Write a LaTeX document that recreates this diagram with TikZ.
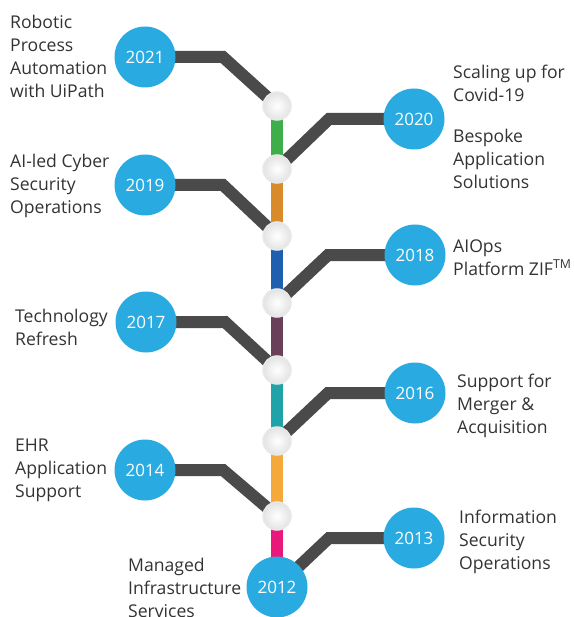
\documentclass[tikz,border=0pt]{standalone}
\usepackage{fontspec}
\setmainfont{Open Sans}
\definecolor{yearblue}{HTML}{29ABE2}
\definecolor{linkgrey}{HTML}{4A4A4A}
\definecolor{txt}{HTML}{333333}
\definecolor{cgreen}{HTML}{3DAE49}
\definecolor{corange}{HTML}{D98A2B}
\definecolor{cblue}{HTML}{1E5FAF}
\definecolor{cplum}{HTML}{6A3F58}
\definecolor{cteal}{HTML}{1FA2A8}
\definecolor{cyellow}{HTML}{F5A93A}
\definecolor{cpink}{HTML}{E8197A}
\begin{document}
\begin{tikzpicture}[x=1pt,y=-1pt,
  year/.style={circle,fill=yearblue,minimum size=61pt,inner sep=0pt,text=white,font=\fontsize{17}{20}\selectfont},
  joint/.style={circle,minimum size=28pt,inner sep=0pt,draw=gray!18,line width=1.5pt,inner color=white,outer color=gray!22},
  link/.style={linkgrey,line width=12pt,line join=miter},
  seg/.style={line width=12pt},
  label/.style={anchor=base west,align=left,inner sep=0pt,text=txt,font=\fontsize{17.6}{23}\selectfont}]
\useasboundingbox (0,0) rectangle (573,617);
% joints
\coordinate (j1) at (277,106);
\coordinate (j2) at (277,169);
\coordinate (j3) at (277,236);
\coordinate (j4) at (277,303);
\coordinate (j5) at (277,370);
\coordinate (j6) at (277,441);
\coordinate (j7) at (277,516);
\coordinate (j8) at (277,587);
% bends
\coordinate (b21) at (223,57);
\coordinate (b20) at (329,119);
\coordinate (b19) at (223,185);
\coordinate (b18) at (328,255);
\coordinate (b17) at (225,322);
\coordinate (b16) at (328,393);
\coordinate (b14) at (223,470);
\coordinate (b13) at (329,538);
% year nodes positions
\coordinate (p21) at (145,57);
\coordinate (p20) at (414,119);
\coordinate (p19) at (145,185);
\coordinate (p18) at (415,255);
\coordinate (p17) at (146,322);
\coordinate (p16) at (415,393);
\coordinate (p14) at (145,470);
\coordinate (p13) at (414,538);
% connectors
\draw[link] (p21) -- (b21) -- (j1);
\draw[link] (p20) -- (b20) -- (j2);
\draw[link] (p19) -- (b19) -- (j3);
\draw[link] (p18) -- (b18) -- (j4);
\draw[link] (p17) -- (b17) -- (j5);
\draw[link] (p16) -- (b16) -- (j6);
\draw[link] (p14) -- (b14) -- (j7);
\draw[link] (p13) -- (b13) -- (j8);
% coloured spine
\draw[seg,cgreen] (j1) -- (j2);
\draw[seg,corange] (j2) -- (j3);
\draw[seg,cblue] (j3) -- (j4);
\draw[seg,cplum] (j4) -- (j5);
\draw[seg,cteal] (j5) -- (j6);
\draw[seg,cyellow] (j6) -- (j7);
\draw[seg,cpink] (j7) -- (j8);
% joint circles
\node[joint] (g1) at (j1) {};
\node[joint] (g2) at (j2) {};
\node[joint] (g3) at (j3) {};
\node[joint] (g4) at (j4) {};
\node[joint] (g5) at (j5) {};
\node[joint] (g6) at (j6) {};
\node[joint] (g7) at (j7) {};
% year circles
\node[year] (y21) at (p21) {2021};
\node[year] (y20) at (p20) {2020};
\node[year] (y19) at (p19) {2019};
\node[year] (y18) at (p18) {2018};
\node[year] (y17) at (p17) {2017};
\node[year] (y16) at (p16) {2016};
\node[year] (y14) at (p14) {2014};
\node[year] (y13) at (p13) {2013};
\node[year] (y12) at (j8) {2012};
% labels (anchored at the baseline of their last line)
\node[label] (t21) at (10,98) {Robotic\\Process\\Automation\\with UiPath};
\node[label] (t20a) at (453,102) {Scaling up for\\Covid-19};
\node[label] (t20b) at (453,189) {Bespoke\\Application\\Solutions};
\node[label] (t19) at (10,214) {AI-led Cyber\\Security\\Operations};
\node[label] (t18) at (453,275) {AIOps\\Platform ZIF\textsuperscript{TM}};
\node[label] (t17) at (15,345) {Technology\\Refresh};
\node[label] (t16) at (457,433) {Support for\\Merger \&\\Acquisition};
\node[label] (t14) at (15,497) {EHR\\Application\\Support};
\node[label] (t13) at (459,569) {Information\\Security\\Operations};
\node[label] (t12) at (128,617) {Managed\\Infrastructure\\Services};
\end{tikzpicture}
\end{document}
